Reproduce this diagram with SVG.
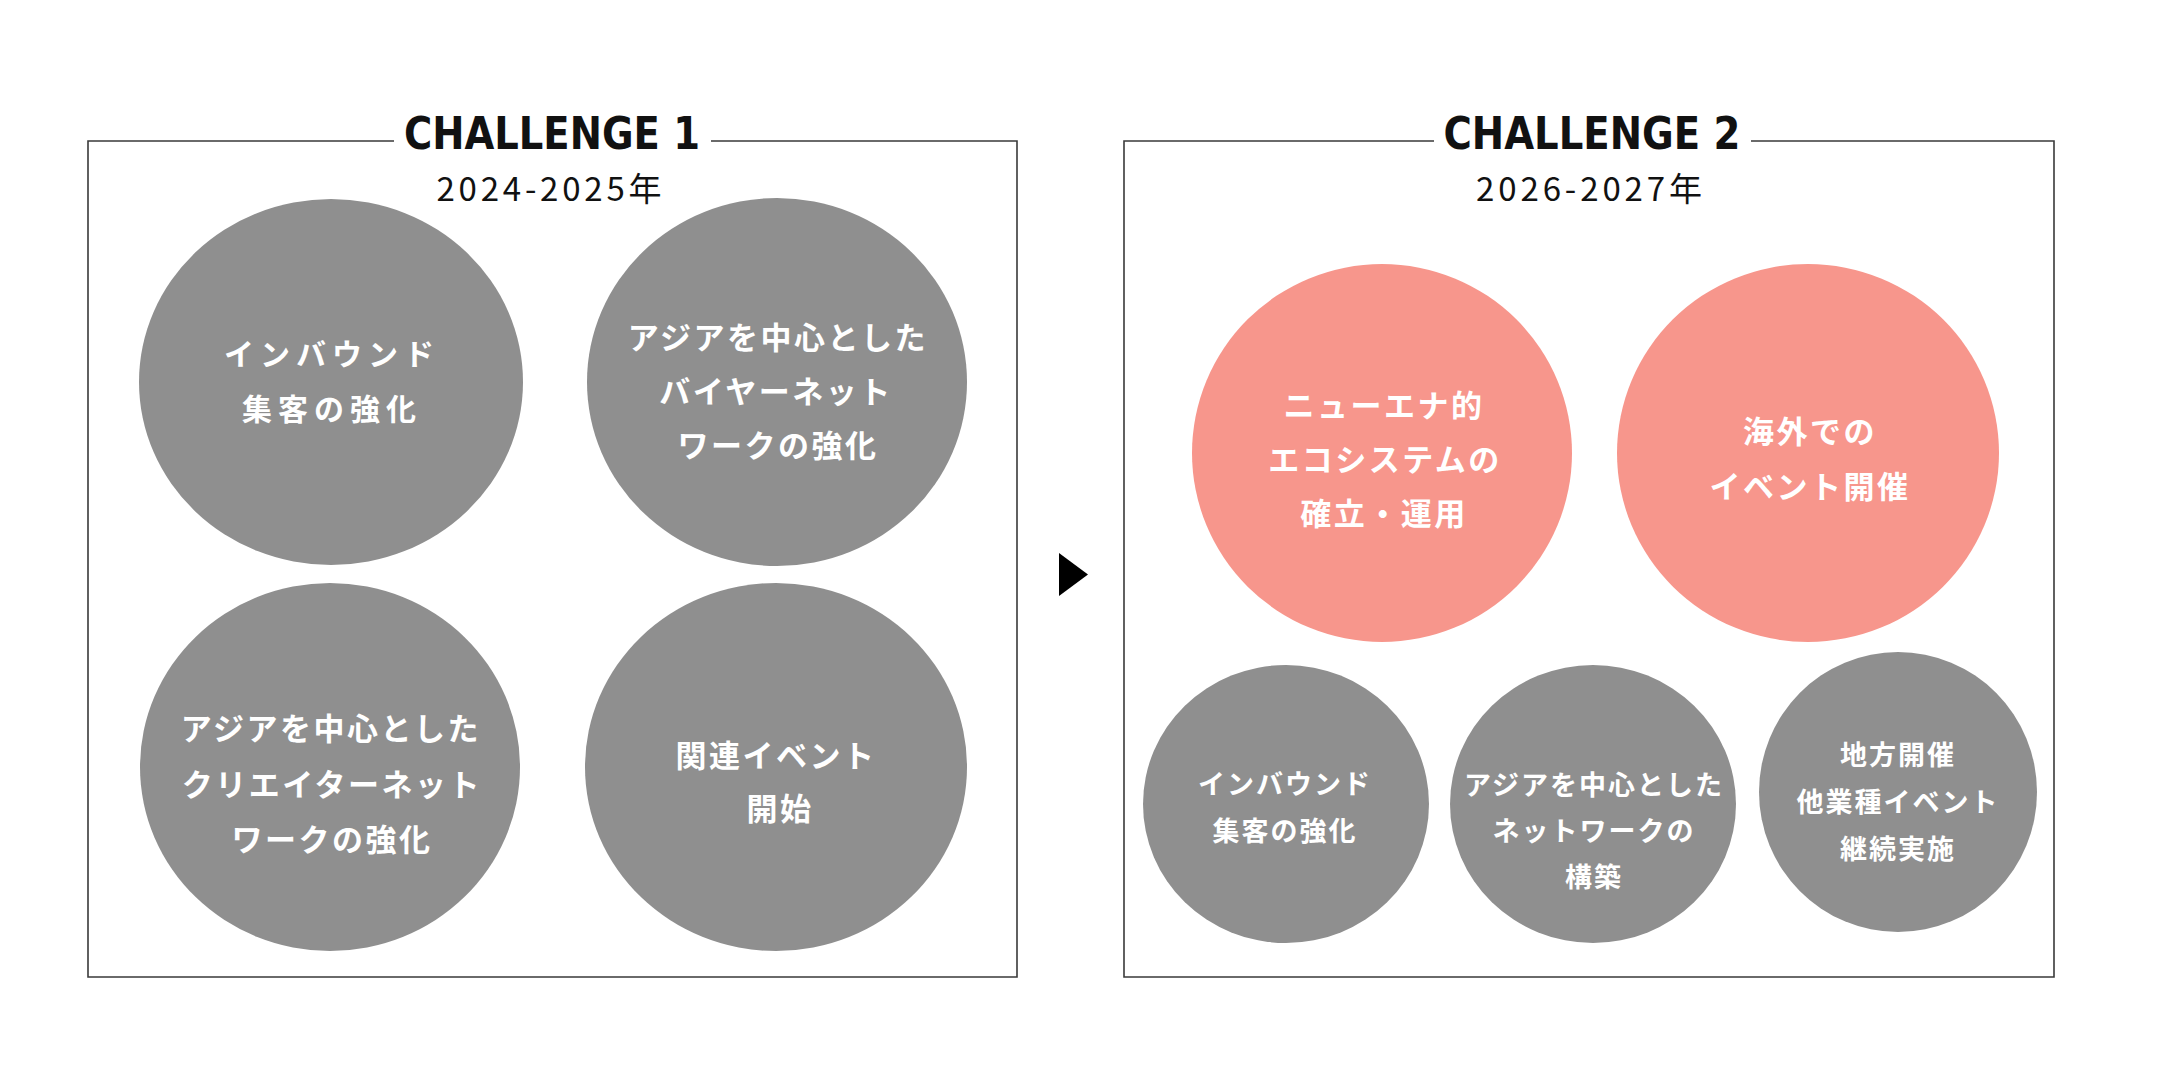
<svg xmlns="http://www.w3.org/2000/svg" width="2160" height="1080" viewBox="0 0 2160 1080">
<style>
.frame{fill:none;stroke:#3a3a3a;stroke-width:1.6}
.title{font-family:"DejaVu Sans Condensed","Liberation Sans Narrow","DejaVu Sans",sans-serif;font-weight:bold;font-size:44px;fill:#111;text-anchor:middle}
.year{font-family:"Noto Sans CJK JP",sans-serif;font-size:33px;fill:#111;text-anchor:middle}
.gray{fill:#8f8f8f}
.pink{fill:#f7968c}
.lbl{font-family:"Noto Sans CJK JP",sans-serif;font-weight:bold;fill:#fff;text-anchor:middle}
.big{font-size:31px;letter-spacing:2.5px}
.big1{font-size:30px;letter-spacing:6px}
.sm{font-size:27px;letter-spacing:2px}
</style>
<rect width="2160" height="1080" fill="#fff"/>
<g id="challenge1">
<path class="frame" d="M394,141 H88 V977 H1017 V141 H711"/>
<text class="title" x="552" y="149" textLength="296" lengthAdjust="spacingAndGlyphs">CHALLENGE 1</text>
<text class="year" x="549" y="201" textLength="225" lengthAdjust="spacing">2024-2025年</text>
</g>
<g id="challenge2">
<path class="frame" d="M1434,141 H1124 V977 H2054 V141 H1751"/>
<text class="title" x="1592" y="149" textLength="297" lengthAdjust="spacingAndGlyphs">CHALLENGE 2</text>
<text class="year" x="1589" y="201" textLength="226" lengthAdjust="spacing">2026-2027年</text>
</g>
<g id="n1">
<ellipse class="gray" cx="331" cy="382" rx="192" ry="183"/>
<text class="lbl big1" x="332" y="365">インバウンド</text>
<text class="lbl big1" x="332" y="420">集客の強化</text>
</g>
<g id="n2">
<ellipse class="gray" cx="777" cy="382" rx="190" ry="184"/>
<text class="lbl big" x="778" y="349">アジアを中心とした</text>
<text class="lbl big" x="776" y="403">バイヤーネット</text>
<text class="lbl big" x="778" y="457">ワークの強化</text>
</g>
<g id="n3">
<ellipse class="gray" cx="330" cy="767" rx="190" ry="184"/>
<text class="lbl big" x="331" y="740">アジアを中心とした</text>
<text class="lbl big" x="332" y="796">クリエイターネット</text>
<text class="lbl big" x="332" y="851">ワークの強化</text>
</g>
<g id="n4">
<ellipse class="gray" cx="776" cy="767" rx="191" ry="184"/>
<text class="lbl big" x="776" y="767">関連イベント</text>
<text class="lbl big" x="780" y="820">開始</text>
</g>
<g id="n5">
<ellipse class="pink" cx="1382" cy="453" rx="190" ry="189"/>
<text class="lbl big" x="1384" y="417">ニューエナ的</text>
<text class="lbl big" x="1385" y="471">エコシステムの</text>
<text class="lbl big" x="1384" y="525">確立・運用</text>
</g>
<g id="n6">
<ellipse class="pink" cx="1808" cy="453" rx="191" ry="189"/>
<text class="lbl big" x="1810" y="443">海外での</text>
<text class="lbl big" x="1810" y="498">イベント開催</text>
</g>
<g id="n7">
<ellipse class="gray" cx="1286" cy="804" rx="143" ry="139"/>
<text class="lbl sm" x="1285" y="794">インバウンド</text>
<text class="lbl sm" x="1285" y="841">集客の強化</text>
</g>
<g id="n8">
<ellipse class="gray" cx="1593" cy="804" rx="143" ry="139"/>
<text class="lbl sm" x="1594" y="795">アジアを中心とした</text>
<text class="lbl sm" x="1594" y="841">ネットワークの</text>
<text class="lbl sm" x="1594" y="887">構築</text>
</g>
<g id="n9">
<ellipse class="gray" cx="1898" cy="792" rx="139" ry="140"/>
<text class="lbl sm" x="1898" y="765">地方開催</text>
<text class="lbl sm" x="1898" y="812">他業種イベント</text>
<text class="lbl sm" x="1898" y="859">継続実施</text>
</g>
<g id="connectors">
<polygon points="1059,553 1059,596 1088,574.5" fill="#000"/>
</g>
</svg>
